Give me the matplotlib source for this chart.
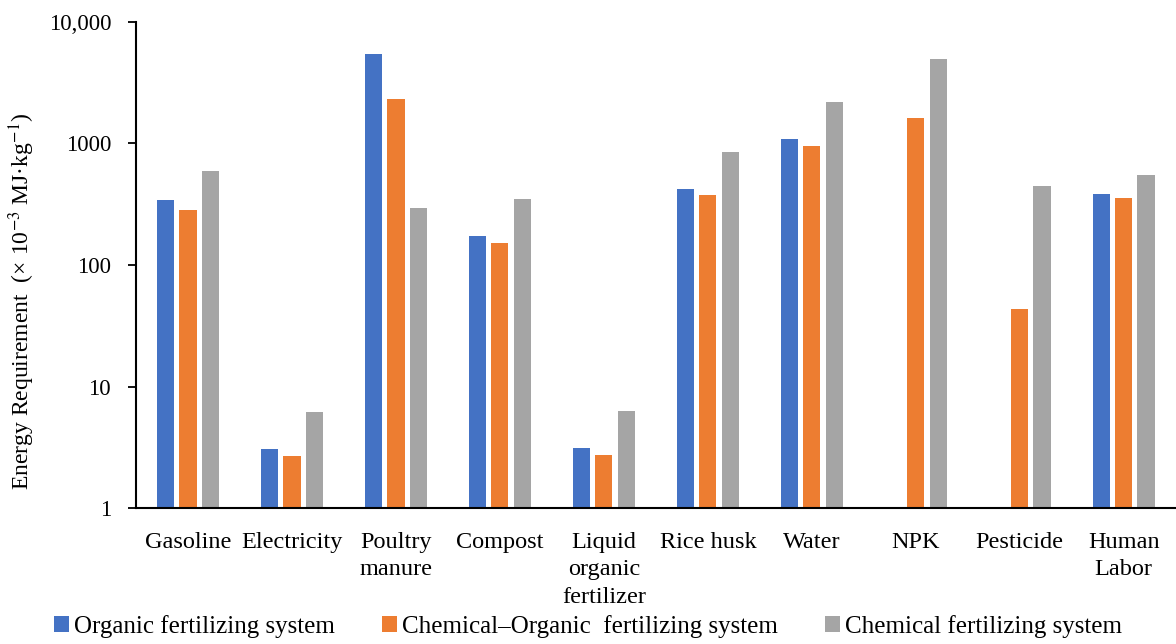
import numpy as np
import matplotlib
matplotlib.use("Agg")
import matplotlib.pyplot as plt
from matplotlib.ticker import FixedLocator, FixedFormatter, NullLocator

# Categories and values (x 10^-3 MJ/kg)
categories = ["Gasoline", "Electricity", "Poultry\nmanure", "Compost",
              "Liquid\norganic\nfertilizer", "Rice husk", "Water", "NPK",
              "Pesticide", "Human\nLabor"]
organic = [341, 3.09, 5420, 173, 3.15, 420, 1096, np.nan, np.nan, 384]
chem_organic = [284, 2.68, 2310, 153, 2.74, 377, 953, 1630, 43.5, 356]
chemical = [594, 6.16, 297, 350, 6.31, 847, 2208, 4920, 450, 551]

series_names = ["Organic fertilizing system",
                "Chemical\u2013Organic  fertilizing system",
                "Chemical fertilizing system"]
colors = ["#4472C4", "#ED7D31", "#A5A5A5"]

yticks = [1, 10, 100, 1000, 10000]
yticklabels = ["1", "10", "100", "1000", "10,000"]

plt.rcParams['font.family'] = ['Liberation Serif', 'DejaVu Serif']
plt.rcParams['mathtext.fontset'] = 'stix'

fig = plt.figure(figsize=(11.76, 6.44), dpi=100)
ax = fig.add_axes([0.1157, 0.211, 0.884, 0.755])

x = np.arange(len(categories))
width = 0.165
step = 0.215
for i, (vals, name, c) in enumerate(zip([organic, chem_organic, chemical], series_names, colors)):
    ax.bar(x + (i - 1) * step, vals, width, bottom=0, color=c, label=name)

ax.set_yscale('log')
ax.set_ylim(1, 10000)
ax.set_xlim(-0.5, len(categories) - 0.5)
ax.yaxis.set_major_locator(FixedLocator(yticks))
ax.yaxis.set_major_formatter(FixedFormatter(yticklabels))
ax.yaxis.set_minor_locator(NullLocator())
ax.set_xticks(x)
ax.set_xticklabels(categories, fontsize=17.5, linespacing=1.4, va='top')
ax.tick_params(axis='x', length=0, pad=17)
ax.tick_params(axis='y', labelsize=16.5, length=6, width=1.3, pad=12)

for s in ['top', 'right']:
    ax.spines[s].set_visible(False)
for s in ['left', 'bottom']:
    ax.spines[s].set_linewidth(1.5)

ax.set_ylabel(r"Energy Requirement  (× 10$^{-3}$ MJ·kg$^{-1}$)", fontsize=17)
ax.yaxis.set_label_coords(-0.095, 0.426)

fig.legend(loc='lower center', bbox_to_anchor=(0.5, -0.026), ncol=3, frameon=False,
           fontsize=18, handlelength=0.6, handleheight=0.6, handletextpad=0.2,
           columnspacing=1.9)

fig.savefig("out.png", dpi=100)
